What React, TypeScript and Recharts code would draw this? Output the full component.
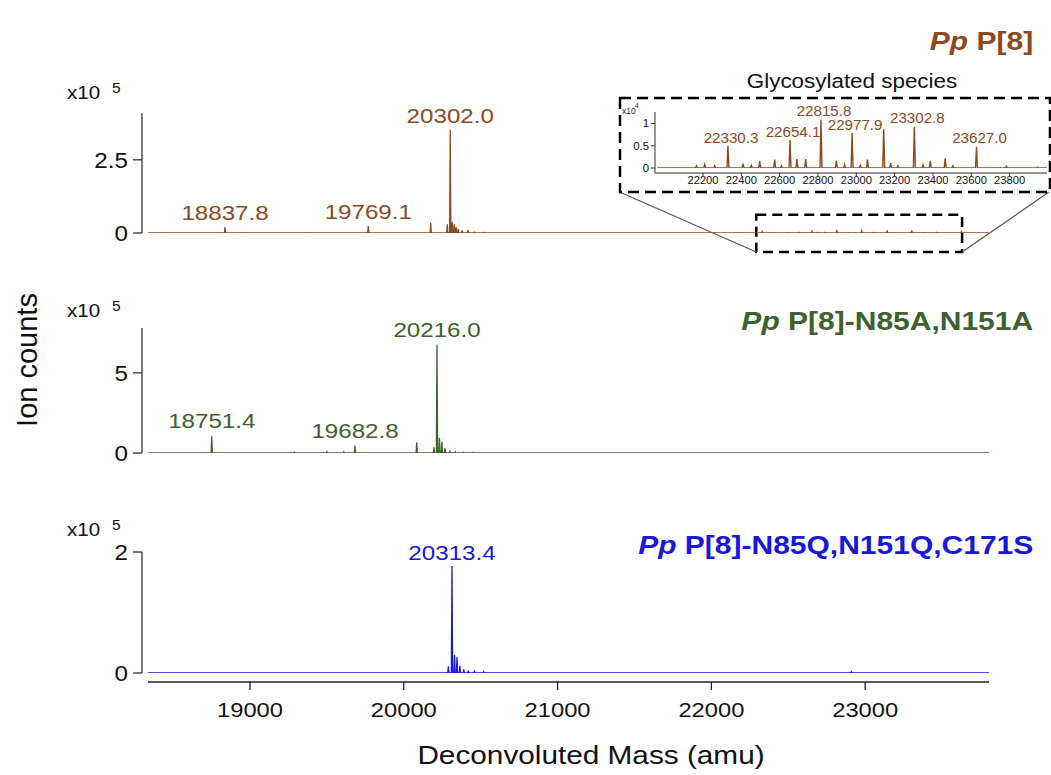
import React from 'react';
import { LineChart, Line, XAxis, YAxis, ReferenceArea, ReferenceLine } from 'recharts';

const FONT = '"Liberation Sans", Arial, Helvetica, sans-serif';

const BROWN = '#8C4A1E';
const GREEN = '#3F6030';
const BLUE = '#1818D6';
const AXIS = '#333333';

// ---------- shared mass axis (amu) ----------
const massDomain: [number, number] = [18337, 23805];
const massTicks = [19000, 20000, 21000, 22000, 23000];

// ---------- Pp P[8]  (ion counts, x10^5) ----------
const p8Masses = [18420, 18837.8, 18975, 19380, 19769.1, 20175, 20283, 20302.0, 20315, 20328, 20340, 20353, 20379, 20418, 20460, 20520];
const p8Counts = [0.01, 0.2, 0.01, 0.01, 0.24, 0.35, 0.3, 3.53, 0.38, 0.3, 0.2, 0.14, 0.09, 0.11, 0.03, 0.02];
const p8Labels = ['', '18837.8', '', '', '19769.1', '', '', '20302.0', '', '', '', '', '', '', '', ''];
const p8YTicks = [0, 2.5];
const p8YMax = 4.1;

// ---------- Glycosylated species of Pp P[8]  (ion counts, x10^4) ----------
const glyMasses = [22166, 22209, 22261, 22330.3, 22409, 22452, 22496, 22574, 22609, 22654.1, 22690, 22736, 22815.8, 22896, 22939, 22977.9, 23021, 23058, 23143, 23179, 23217, 23302.8, 23348, 23386, 23464, 23504, 23627.0, 23783, 23946];
const glyCounts = [0.05, 0.08, 0.05, 0.5, 0.1, 0.06, 0.16, 0.19, 0.05, 0.63, 0.2, 0.2, 1.09, 0.16, 0.08, 0.79, 0.06, 0.19, 0.87, 0.11, 0.05, 0.93, 0.07, 0.16, 0.22, 0.05, 0.48, 0.04, 0.02];
const glyLabels = ['', '', '', '22330.3', '', '', '', '', '', '22654.1', '', '', '22815.8', '', '', '22977.9', '', '', '', '', '', '23302.8', '', '', '', '', '23627.0', '', ''];
const glyDomain: [number, number] = [21960, 23995];
const glyTicks = [22200, 22400, 22600, 22800, 23000, 23200, 23400, 23600, 23800];
const glyYTicks = [0, 0.5, 1];
const glyYMax = 1.26;

// ---------- Pp P[8]-N85A,N151A  (x10^5) ----------
const aMasses = [18751.4, 19290, 19500, 19610, 19682.8, 20084, 20196, 20216.0, 20232, 20248, 20268, 20300, 20335, 20390, 20450];
const aCounts = [1.04, 0.05, 0.08, 0.07, 0.46, 0.67, 0.35, 6.75, 0.95, 0.7, 0.3, 0.1, 0.07, 0.04, 0.04];
const aLabels = ['18751.4', '', '', '', '19682.8', '', '', '20216.0', '', '', '', '', '', '', ''];
const aYTicks = [0, 5];
const aYMax = 7.8;

// ---------- Pp P[8]-N85Q,N151Q,C171S  (x10^5) ----------
const qMasses = [20290, 20313.4, 20330, 20346, 20365, 20390, 20420, 20460, 20520, 22910];
const qCounts = [0.11, 1.77, 0.3, 0.26, 0.12, 0.06, 0.04, 0.03, 0.02, 0.02];
const qLabels = ['', '20313.4', '', '', '', '', '', '', '', ''];
const qYTicks = [0, 2];
const qYMax = 2;

type Pt = { mass: number; counts: number; label?: string };

function buildSpectrum(masses: number[], counts: number[], labels: string[], halfWidth: number, domain: [number, number]): Pt[] {
  const pts: Pt[] = [{ mass: domain[0], counts: 0 }];
  const order = masses.map((_, i) => i).sort((a, b) => masses[a] - masses[b]);
  for (const i of order) {
    pts.push({ mass: masses[i] - halfWidth, counts: 0 });
    pts.push({ mass: masses[i], counts: counts[i], label: labels[i] || undefined });
    pts.push({ mass: masses[i] + halfWidth, counts: 0 });
  }
  pts.push({ mass: domain[1], counts: 0 });
  return pts;
}

// top panel shows the glycosylated species too (x10^4 -> x10^5)
const topData = buildSpectrum(
  [...p8Masses, ...glyMasses],
  [...p8Counts, ...glyCounts.map((c) => c / 10)],
  [...p8Labels, ...glyMasses.map(() => '')],
  4,
  massDomain
);
const insetData = buildSpectrum(glyMasses, glyCounts, glyLabels, 5, glyDomain);
const midData = buildSpectrum(aMasses, aCounts, aLabels, 4, massDomain);
const botData = buildSpectrum(qMasses, qCounts, qLabels, 4, massDomain);

const makePeakLabel = (data: Pt[], color: string, fontSize: number, sx: number, dx: number, dy: number) => (props: any) => {
  const idx = props.index;
  let pt: Pt | undefined = typeof idx === 'number' ? data[idx] : undefined;
  if (!pt && props.payload) pt = props.payload;
  if (!pt || !pt.label) return null;
  const x = props.viewBox?.x ?? props.x;
  const y = props.viewBox?.y ?? props.y;
  if (x == null || y == null) return null;
  return (
    <g key={`lbl-${idx}`} transform={`translate(${x + dx},${y - dy}) scale(${sx},1)`}>
      <text x={0} y={0} textAnchor="middle" dominantBaseline="central" fill={color} fontSize={fontSize} fontFamily={FONT}>
        {pt.label}
      </text>
    </g>
  );
};

const makeYTick = (fontSize: number, sx: number, color: string) => (props: any) => {
  const { x, y, payload } = props;
  return (
    <g transform={`translate(${x},${y}) scale(${sx},1)`}>
      <text x={0} y={0} dy="0.355em" textAnchor="end" fill={color} fontSize={fontSize} fontFamily={FONT}>
        {String(payload.value)}
      </text>
    </g>
  );
};

const makeXTick = (fontSize: number, sx: number, color: string) => (props: any) => {
  const { x, y, payload } = props;
  return (
    <g transform={`translate(${x},${y}) scale(${sx},1)`}>
      <text x={0} y={0} dy="0.71em" textAnchor="middle" fill={color} fontSize={fontSize} fontFamily={FONT}>
        {String(payload.value)}
      </text>
    </g>
  );
};

const abs = (left: number, top: number): React.CSSProperties => ({ position: 'absolute', left, top });

const Exp = ({ top }: { top: number }) => (
  <>
    <div style={{ ...abs(67, top), fontFamily: FONT, fontSize: 19, lineHeight: 1, color: '#111', transform: 'scaleX(1.08)', transformOrigin: 'left center' }}>x10</div>
    <div style={{ ...abs(112, top - 3), fontFamily: FONT, fontSize: 15.5, lineHeight: 1, color: '#111' }}>5</div>
  </>
);

const Title = ({ top, color, rest }: { top: number; color: string; rest: string }) => (
  <div
    style={{
      position: 'absolute',
      right: 18,
      top,
      fontFamily: FONT,
      fontWeight: 'bold',
      fontSize: 25,
      lineHeight: 1,
      color,
      whiteSpace: 'nowrap',
      transform: 'scaleX(1.2)',
      transformOrigin: 'right center',
    }}
  >
    <i>Pp</i> {rest}
  </div>
);

export default function App() {
  const yAxisCommon = {
    type: 'number' as const,
    width: 142,
    tickSize: 9,
    tickMargin: 5,
    axisLine: { stroke: AXIS, strokeWidth: 1.3 },
    tickLine: { stroke: AXIS, strokeWidth: 1.3 },
    tick: makeYTick(22, 1.1, '#111'),
    allowDataOverflow: true,
    interval: 0 as const,
  };
  const xHidden = (
    <XAxis type="number" dataKey="mass" domain={massDomain} ticks={massTicks} hide padding={{ left: 6, right: 0 }} allowDataOverflow />
  );

  return (
    <div style={{ position: 'absolute', left: 0, top: 0, width: 1051, height: 775, background: '#fff', overflow: 'hidden' }}>
      {/* Panel 1: Pp P[8] */}
      <div style={abs(0, 100)}>
        <LineChart width={1051} height={160} data={topData} margin={{ top: 13, right: 62, bottom: 27, left: 0 }}>
          {xHidden}
          <YAxis {...yAxisCommon} domain={[0, p8YMax]} ticks={p8YTicks} />
          <ReferenceArea x1={22292} x2={23630} y1={-0.65} y2={0.62} ifOverflow="visible" fill="none" fillOpacity={0} stroke="#000" strokeWidth={2.5} strokeDasharray="10 6" />
          <ReferenceLine segment={[{ x: 21403, y: 1.4 }, { x: 22292, y: -0.65 }]} ifOverflow="visible" stroke="#555" strokeWidth={1.2} />
          <ReferenceLine segment={[{ x: 23630, y: -0.65 }, { x: 24195, y: 1.4 }]} ifOverflow="visible" stroke="#555" strokeWidth={1.2} />
          <Line type="linear" dataKey="counts" stroke={BROWN} strokeWidth={1.3} dot={false} isAnimationActive={false} label={makePeakLabel(topData, BROWN, 21, 1.15, 0, 14)} />
        </LineChart>
      </div>

      {/* Panel 2: N85A,N151A */}
      <div style={abs(0, 315)}>
        <LineChart width={1051} height={150} data={midData} margin={{ top: 13, right: 62, bottom: 12, left: 0 }}>
          {xHidden}
          <YAxis {...yAxisCommon} domain={[0, aYMax]} ticks={aYTicks} />
          <Line type="linear" dataKey="counts" stroke={GREEN} strokeWidth={1.3} dot={false} isAnimationActive={false} label={makePeakLabel(midData, GREEN, 21, 1.15, 0, 15)} />
        </LineChart>
      </div>

      {/* Panel 3: N85Q,N151Q,C171S */}
      <div style={abs(0, 536)}>
        <LineChart width={1051} height={160} data={botData} margin={{ top: 16, right: 62, bottom: 23, left: 0 }}>
          {xHidden}
          <YAxis {...yAxisCommon} domain={[0, qYMax]} ticks={qYTicks} />
          <Line type="linear" dataKey="counts" stroke={BLUE} strokeWidth={1.3} dot={false} isAnimationActive={false} label={makePeakLabel(botData, BLUE, 21, 1.15, 0, 13)} />
        </LineChart>
      </div>

      {/* Shared mass axis */}
      <div style={abs(0, 600)}>
        <LineChart width={1051} height={175} data={botData} margin={{ top: 0, right: 62, bottom: 0, left: 148 }}>
          <XAxis
            type="number"
            dataKey="mass"
            domain={massDomain}
            ticks={massTicks}
            height={93}
            tickSize={8}
            tickMargin={12}
            axisLine={{ stroke: '#222', strokeWidth: 1.5 }}
            tickLine={{ stroke: '#222', strokeWidth: 1.3 }}
            tick={makeXTick(21, 1.13, '#111')}
            interval={0}
            allowDataOverflow
          />
          <YAxis hide domain={[0, 1]} />
        </LineChart>
      </div>

      {/* Inset: glycosylated species */}
      <svg style={abs(618, 96)} width={433} height={100}>
        <rect x={2} y={2} width={430} height={94} fill="none" stroke="#000" strokeWidth={2.5} strokeDasharray="11 6" />
      </svg>
      <div style={abs(620, 98)}>
        <LineChart width={430} height={94} data={insetData} margin={{ top: 14, right: 3, bottom: 0, left: 0 }}>
          <XAxis
            type="number"
            dataKey="mass"
            domain={glyDomain}
            ticks={glyTicks}
            height={19}
            padding={{ left: 2, right: 0 }}
            tickSize={3}
            tickMargin={1}
            axisLine={{ stroke: AXIS, strokeWidth: 1 }}
            tickLine={{ stroke: AXIS, strokeWidth: 1 }}
            tick={makeXTick(10, 1.12, '#111')}
            interval={0}
            allowDataOverflow
          />
          <YAxis
            type="number"
            domain={[0, glyYMax]}
            ticks={glyYTicks}
            width={35}
            padding={{ top: 0, bottom: 5 }}
            tickSize={4}
            tickMargin={2}
            axisLine={{ stroke: AXIS, strokeWidth: 1 }}
            tickLine={{ stroke: AXIS, strokeWidth: 1 }}
            tick={makeYTick(10.5, 1.08, '#111')}
            interval={0}
            allowDataOverflow
          />
          <Line type="linear" dataKey="counts" stroke={BROWN} strokeWidth={1.4} dot={false} isAnimationActive={false} label={makePeakLabel(insetData, BROWN, 14, 1.08, 3, 8)} />
        </LineChart>
      </div>
      <div style={{ ...abs(622, 107), fontFamily: FONT, fontSize: 8.5, lineHeight: 1, color: '#222' }}>x10</div>
      <div style={{ ...abs(635, 103), fontFamily: FONT, fontSize: 6.5, lineHeight: 1, color: '#222' }}>4</div>
      <div style={{ position: 'absolute', left: 852, top: 71, fontFamily: FONT, fontSize: 20, lineHeight: 1, color: '#111', whiteSpace: 'nowrap', transform: 'translateX(-50%) scaleX(1.12)' }}>
        Glycosylated species
      </div>

      {/* exponent labels */}
      <Exp top={83} />
      <Exp top={301} />
      <Exp top={520} />

      {/* titles */}
      <Title top={29} color={BROWN} rest="P[8]" />
      <Title top={309} color={GREEN} rest="P[8]-N85A,N151A" />
      <Title top={533} color={BLUE} rest="P[8]-N85Q,N151Q,C171S" />

      {/* axis titles */}
      <div style={{ position: 'absolute', left: 27, top: 360, fontFamily: FONT, fontSize: 29, lineHeight: 1, color: '#111', whiteSpace: 'nowrap', transform: 'translate(-50%,-50%) rotate(-90deg)' }}>
        Ion counts
      </div>
      <div style={{ position: 'absolute', left: 591, top: 743, fontFamily: FONT, fontSize: 25, lineHeight: 1, color: '#111', whiteSpace: 'nowrap', transform: 'translateX(-50%) scaleX(1.19)' }}>
        Deconvoluted Mass (amu)
      </div>
    </div>
  );
}
